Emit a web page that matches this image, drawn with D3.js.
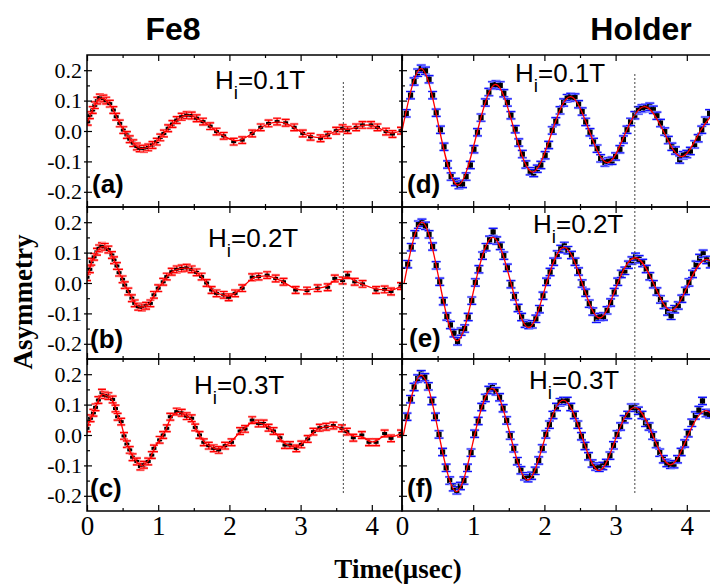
<!DOCTYPE html>
<html>
<head>
<meta charset="utf-8">
<script src="https://cdn.jsdelivr.net/npm/d3@7"></script>
<style>
  body { margin: 0; background: #fff; }
  .tick line { stroke: #000; stroke-width: 1.2; }
  .domain { display: none; }
</style>
</head>
<body>
<svg id="chart" width="710" height="585"></svg>
<script>
// ---- Fe8 sample data (time in usec, asymmetry) ----
const fe8TimeA = [0.01,0.04,0.08,0.11,0.145,0.18,0.23,0.27,0.32,0.37,0.41,0.46,0.51,0.56,0.60,0.65,0.70,0.74,0.80,0.86,0.92,0.98,1.03,1.08,1.14,1.20,1.26,1.33,1.40,1.47,1.54,1.63,1.73,1.82,1.92,2.06,2.18,2.32,2.44,2.55,2.67,2.79,2.91,3.03,3.14,3.28,3.38,3.50,3.59,3.66,3.78,3.87,3.99,4.08,4.20,4.29,4.41];
const fe8AsymA = [0.030,0.052,0.069,0.085,0.100,0.110,0.107,0.100,0.090,0.069,0.047,0.025,0.003,-0.013,-0.027,-0.040,-0.051,-0.057,-0.058,-0.054,-0.046,-0.035,-0.021,-0.008,0.009,0.023,0.036,0.047,0.052,0.051,0.042,0.031,0.016,-0.002,-0.016,-0.035,-0.030,-0.008,0.012,0.025,0.031,0.027,0.012,-0.008,-0.019,-0.024,-0.013,0.001,0.009,0.003,0.012,0.020,0.020,0.012,-0.002,-0.010,0.001];

const fe8TimeB = [0.0,0.04,0.06,0.10,0.14,0.17,0.21,0.25,0.30,0.35,0.38,0.42,0.45,0.50,0.53,0.58,0.63,0.67,0.72,0.77,0.83,0.89,0.94,1.00,1.07,1.12,1.19,1.26,1.33,1.40,1.47,1.54,1.61,1.68,1.75,1.82,1.92,1.99,2.08,2.18,2.32,2.41,2.53,2.65,2.76,2.93,3.09,3.24,3.38,3.48,3.59,3.66,3.76,3.87,4.06,4.18,4.27,4.41];
const fe8AsymB = [0.019,0.045,0.070,0.086,0.103,0.114,0.121,0.119,0.110,0.092,0.075,0.056,0.034,0.012,-0.007,-0.028,-0.050,-0.067,-0.078,-0.080,-0.075,-0.067,-0.039,-0.017,0.004,0.021,0.037,0.045,0.048,0.050,0.045,0.035,0.021,0.000,-0.023,-0.034,-0.039,-0.047,-0.034,-0.017,0.019,0.021,0.026,0.015,0.004,-0.023,-0.025,-0.017,-0.014,0.015,0.008,0.026,0.004,-0.003,-0.023,-0.021,-0.028,-0.010];

const fe8TimeC = [0.0,0.05,0.09,0.12,0.16,0.21,0.25,0.30,0.36,0.40,0.43,0.48,0.52,0.56,0.60,0.64,0.70,0.75,0.80,0.86,0.91,0.94,1.02,1.07,1.12,1.17,1.26,1.33,1.40,1.47,1.52,1.58,1.64,1.71,1.78,1.85,1.94,2.03,2.15,2.22,2.32,2.41,2.48,2.55,2.62,2.71,2.78,2.85,2.94,3.01,3.10,3.18,3.27,3.36,3.46,3.58,3.65,3.74,3.86,3.96,4.06,4.18,4.27,4.41];
const fe8AsymC = [0.022,0.055,0.073,0.091,0.115,0.139,0.131,0.128,0.117,0.087,0.060,0.044,-0.003,-0.030,-0.049,-0.073,-0.087,-0.104,-0.098,-0.087,-0.066,-0.044,-0.016,0.000,0.022,0.060,0.077,0.073,0.062,0.055,0.025,0.000,-0.024,-0.035,-0.044,-0.049,-0.035,-0.024,0.013,0.020,0.049,0.038,0.038,0.024,0.013,-0.009,-0.033,-0.033,-0.044,-0.031,-0.013,0.011,0.024,0.027,0.031,0.022,0.011,-0.009,0.000,-0.024,-0.024,0.005,-0.011,0.005];

// ---- Holder data ----
const holderTimeD = [0.06,0.12,0.17,0.22,0.27,0.33,0.38,0.43,0.48,0.54,0.59,0.64,0.69,0.75,0.80,0.85,0.90,0.96,1.01,1.06,1.11,1.17,1.22,1.27,1.32,1.38,1.43,1.48,1.53,1.59,1.64,1.69,1.74,1.80,1.85,1.90,1.95,2.01,2.06,2.11,2.16,2.22,2.27,2.32,2.37,2.43,2.48,2.53,2.58,2.64,2.69,2.74,2.79,2.85,2.90,2.95,3.00,3.06,3.11,3.16,3.21,3.27,3.32,3.37,3.42,3.48,3.53,3.58,3.63,3.69,3.74,3.79,3.84,3.90,3.95,4.00,4.05,4.11,4.16,4.21,4.26,4.32];
const holderAsymD = [0.058,0.118,0.163,0.192,0.205,0.198,0.170,0.118,0.060,
  0.004,-0.052,-0.110,-0.150,-0.168,-0.178,-0.174,-0.150,-0.112,-0.060,
  -0.004,0.044,0.094,0.128,0.150,0.153,0.150,0.124,0.094,0.052,
  0.006,-0.038,-0.076,-0.110,-0.132,-0.138,-0.124,-0.112,-0.080,-0.046,
  0.002,0.032,0.068,0.094,0.108,0.112,0.110,0.088,0.064,0.030,
  -0.004,-0.036,-0.058,-0.090,-0.104,-0.100,-0.098,-0.084,-0.060,-0.028,
  0.004,0.030,0.052,0.068,0.074,0.076,0.080,0.070,0.050,0.026,
  -0.002,-0.030,-0.052,-0.064,-0.094,-0.080,-0.076,-0.066,-0.044,-0.024,
  0.004,0.034,0.058];

const holderTimeE = [0.08,0.13,0.18,0.23,0.28,0.33,0.38,0.43,0.48,0.53,0.58,0.63,0.68,0.73,0.78,0.83,0.88,0.93,0.98,1.03,1.08,1.13,1.18,1.23,1.28,1.33,1.38,1.43,1.48,1.53,1.58,1.63,1.68,1.73,1.78,1.83,1.88,1.93,1.98,2.03,2.08,2.13,2.18,2.23,2.28,2.33,2.38,2.43,2.48,2.53,2.58,2.63,2.68,2.73,2.78,2.83,2.88,2.93,2.98,3.03,3.08,3.13,3.18,3.23,3.28,3.33,3.38,3.43,3.48,3.53,3.58,3.63,3.68,3.73,3.78,3.83,3.88,3.93,3.98,4.03,4.08,4.13,4.18,4.23,4.28,4.33];
const holderAsymE = [0.062,0.118,0.160,0.192,0.198,0.188,0.160,0.120,0.058,
  0.004,-0.060,-0.110,-0.138,-0.165,-0.192,-0.160,-0.150,-0.112,-0.058,
  0.002,0.045,0.090,0.118,0.142,0.168,0.140,0.122,0.090,0.050,
  -0.004,-0.044,-0.082,-0.112,-0.134,-0.138,-0.136,-0.118,-0.086,-0.042,
  0.004,0.036,0.070,0.094,0.112,0.122,0.108,0.092,0.070,0.038,
  -0.002,-0.032,-0.068,-0.094,-0.118,-0.112,-0.110,-0.090,-0.064,-0.030,
  0.004,0.030,0.040,0.060,0.074,0.086,0.078,0.066,0.046,0.022,
  -0.004,-0.028,-0.054,-0.072,-0.094,-0.108,-0.086,-0.074,-0.052,-0.026,
  0.002,0.030,0.060,0.082,0.096,0.076,0.062];

const holderTimeF = [0.07,0.12,0.17,0.22,0.27,0.32,0.37,0.42,0.47,0.52,0.57,0.62,0.67,0.72,0.77,0.82,0.87,0.92,0.97,1.02,1.07,1.12,1.17,1.22,1.27,1.32,1.37,1.42,1.47,1.52,1.57,1.62,1.67,1.72,1.77,1.82,1.87,1.92,1.97,2.02,2.07,2.12,2.17,2.22,2.27,2.32,2.37,2.42,2.47,2.52,2.57,2.62,2.67,2.72,2.77,2.82,2.87,2.92,2.97,3.02,3.07,3.12,3.17,3.22,3.27,3.32,3.37,3.42,3.47,3.52,3.57,3.62,3.67,3.72,3.77,3.82,3.87,3.92,3.97,4.02,4.07,4.12,4.17,4.22,4.27,4.32];
const holderAsymF = [0.060,0.118,0.158,0.186,0.200,0.190,0.160,0.112,0.060,
  0.002,-0.056,-0.108,-0.150,-0.172,-0.182,-0.168,-0.150,-0.108,-0.058,
  0.004,0.046,0.092,0.122,0.148,0.156,0.144,0.124,0.088,0.048,
  -0.002,-0.044,-0.086,-0.116,-0.136,-0.142,-0.134,-0.118,-0.084,-0.044,
  0.002,0.034,0.066,0.092,0.108,0.112,0.112,0.092,0.066,0.034,
  -0.004,-0.036,-0.070,-0.094,-0.104,-0.108,-0.102,-0.092,-0.068,-0.034,
  0.002,0.028,0.052,0.066,0.090,0.090,0.080,0.066,0.040,0.028,
  -0.002,-0.030,-0.058,-0.080,-0.092,-0.098,-0.096,-0.080,-0.056,-0.028,
  0.006,0.040,0.064,0.082,0.112,0.072,0.068];

// holder fit curves, read at extrema and zero crossings
const fitTimeD = [0,0.27,0.53,0.79,1.06,1.32,1.58,1.84,2.11,2.37,2.63,2.89,3.15,3.41,3.67,3.93,4.19,4.45];
const fitAsymD = [0,0.205,0,-0.178,0,0.153,0,-0.135,0,0.113,0,-0.104,0,0.080,0,-0.084,0,0.078];
const fitTimeE = [0.03,0.28,0.53,0.78,1.03,1.28,1.53,1.78,2.03,2.28,2.53,2.78,3.03,3.28,3.53,3.78,4.03,4.28,4.53];
const fitAsymE = [0,0.200,0,-0.190,0,0.150,0,-0.147,0,0.117,0,-0.115,0,0.083,0,-0.090,0,0.078,0];
const fitTimeF = [0.02,0.27,0.52,0.77,1.02,1.27,1.52,1.77,2.02,2.27,2.52,2.77,3.02,3.27,3.52,3.77,4.02,4.27,4.52];
const fitAsymF = [0,0.197,0,-0.186,0,0.153,0,-0.148,0,0.115,0,-0.117,0,0.091,0,-0.098,0,0.080,0];

const fieldLabels = ["0.1", "0.2", "0.3"];
const panelTags = ["(a)", "(b)", "(c)", "(d)", "(e)", "(f)"];
const xMajor = [0, 1, 2, 3, 4];
const xMinor = [0.5, 1.5, 2.5, 3.5];
const yMajor = [-0.2, -0.1, 0, 0.1, 0.2];
const yMinor = [-0.15, -0.05, 0.05, 0.15];
const markerTime = [3.6, 3.27];   // dotted guides, left / right column
const errFe8 = 0.011, errHolder = 0.012;

// ---- layout ----
const svg = d3.select("#chart");
const W = 315, H = 152;
const colX = [87, 402];
const rowY = [55, 207, 359];
const x = d3.scaleLinear().domain([0, 4.424]).range([0, W]);
const y = d3.scaleLinear().domain([-0.25, 0.25]).range([H, 0]);

// label spots inside each panel (field text, tag)
const fieldPos = [[128, 34], [121, 40], [107, 35], [113, 27], [131, 26], [127, 30]];
const tagPos = [[5, 138], [3, 141], [3, 138], [5, 138], [7, 140], [5, 138]];

svg.append("defs").append("clipPath").attr("id", "clip")
  .append("rect").attr("width", W).attr("height", H);

const panels = [
  {col: 0, row: 0, time: fe8TimeA, asym: fe8AsymA, kind: "fe8"},
  {col: 0, row: 1, time: fe8TimeB, asym: fe8AsymB, kind: "fe8"},
  {col: 0, row: 2, time: fe8TimeC, asym: fe8AsymC, kind: "fe8"},
  {col: 1, row: 0, time: holderTimeD, asym: holderAsymD, kind: "holder", fitT: fitTimeD, fitV: fitAsymD},
  {col: 1, row: 1, time: holderTimeE, asym: holderAsymE, kind: "holder", fitT: fitTimeE, fitV: fitAsymE},
  {col: 1, row: 2, time: holderTimeF, asym: holderAsymF, kind: "holder", fitT: fitTimeF, fitV: fitAsymF}
];

panels.forEach(function(p, i) {
  const g = svg.append("g").attr("transform", `translate(${colX[p.col]},${rowY[p.row]})`);
  const plot = g.append("g").attr("clip-path", "url(#clip)");
  const pts = p.time.map((t, k) => ({t: t, v: p.asym[k]}));
  const isFe8 = p.kind === "fe8";
  const err = isFe8 ? errFe8 : errHolder;
  const cap = isFe8 ? 4 : 4.5;

  const marks = plot.selectAll("g.pt").data(pts).join("g")
    .attr("class", "pt")
    .attr("transform", d => `translate(${x(d.t)},${y(d.v)})`);

  const barPath = d => {
    const h = y(0) - y(err);
    return `M0,${-h}V${h}M${-cap},${-h}H${cap}M${-cap},${h}H${cap}`;
  };
  // soft halo under the error bars
  marks.append("path").attr("d", barPath)
    .attr("stroke", isFe8 ? "#ffa0a0" : "#b4baff").attr("stroke-width", 2.6).attr("fill", "none");
  marks.append("path").attr("d", barPath)
    .attr("stroke", isFe8 ? "#ff0000" : "#1010ff").attr("stroke-width", 1.2).attr("fill", "none");

  // fit line
  let line;
  if (isFe8) {
    line = d3.line().x(d => x(d.t)).y(d => y(d.v)).curve(d3.curveBasis);
    plot.append("path").datum(pts).attr("d", line)
      .attr("fill", "none").attr("stroke", "#ff0000").attr("stroke-width", 1.3);
  } else {
    const fit = p.fitT.map((t, k) => ({t: t, v: p.fitV[k]}));
    line = d3.line().x(d => x(d.t)).y(d => y(d.v)).curve(d3.curveNatural);
    plot.append("path").datum(fit).attr("d", line)
      .attr("fill", "none").attr("stroke", "#ff0000").attr("stroke-width", 1.3);
  }

  // markers on top
  if (isFe8) {
    marks.append("rect").attr("x", -2.5).attr("y", -1.5).attr("width", 5).attr("height", 3).attr("fill", "#000");
  } else {
    marks.append("rect").attr("x", -2.6).attr("y", -2.6).attr("width", 5.2).attr("height", 5.2).attr("fill", "#000");
  }

  // dotted guide
  const gy0 = p.col === 0 ? 82 : 74;
  const gy1 = 495;
  const y0 = Math.max(gy0 - rowY[p.row], 0), y1 = Math.min(gy1 - rowY[p.row], H);
  g.append("line")
    .attr("x1", x(markerTime[p.col])).attr("x2", x(markerTime[p.col]))
    .attr("y1", y0).attr("y2", y1)
    .attr("stroke", "#444").attr("stroke-width", 1).attr("stroke-dasharray", "2,2");

  // axes: ticks inward on top and bottom
  g.append("g").call(d3.axisTop(x).tickValues(xMajor).tickSize(-6).tickFormat(""));
  g.append("g").call(d3.axisTop(x).tickValues(xMinor).tickSize(-3).tickFormat(""));
  g.append("g").attr("transform", `translate(0,${H})`)
    .call(d3.axisBottom(x).tickValues(xMinor).tickSize(-3).tickFormat(""));
  const bottom = g.append("g").attr("transform", `translate(0,${H})`)
    .call(d3.axisBottom(x).tickValues(xMajor).tickSize(-6).tickPadding(5)
      .tickFormat(p.row === 2 ? d3.format("d") : ""));
  bottom.selectAll("text")
    .attr("font-family", "'Liberation Serif', 'Times New Roman', serif")
    .attr("font-size", 27).attr("fill", "#000");

  g.append("g").call(d3.axisLeft(y).tickValues(yMajor).tickSize(-5).tickFormat(""));
  g.append("g").call(d3.axisLeft(y).tickValues(yMinor).tickSize(-3).tickFormat(""));
  const left = g.append("g").call(d3.axisLeft(y).tickValues(yMajor).tickSize(3).tickPadding(2)
    .tickFormat(p.col === 0 ? (d => d.toFixed(1)) : ""));
  left.selectAll("text")
    .attr("font-family", "'Liberation Serif', 'Times New Roman', serif")
    .attr("font-size", 22).attr("fill", "#000");

  // frame
  g.append("rect").attr("width", W).attr("height", H)
    .attr("fill", "none").attr("stroke", "#000").attr("stroke-width", 1.5);

  // field label H_i=...
  const fp = fieldPos[i];
  const ft = g.append("text").attr("x", fp[0]).attr("y", fp[1])
    .attr("font-family", "'Liberation Sans', Arial, sans-serif").attr("font-size", 26).attr("fill", "#000");
  ft.append("tspan").text("H");
  ft.append("tspan").attr("font-size", 19).attr("dy", 10).text("i");
  ft.append("tspan").attr("dy", -10).text("=" + fieldLabels[p.row] + "T");

  const tp = tagPos[i];
  g.append("text").attr("x", tp[0]).attr("y", tp[1])
    .attr("font-family", "'Liberation Sans', Arial, sans-serif").attr("font-weight", "bold")
    .attr("font-size", 26).attr("fill", "#000").text(panelTags[i]);
});

// titles
svg.append("text").attr("x", 173).attr("y", 40).attr("text-anchor", "middle")
  .attr("font-family", "'Liberation Sans', Arial, sans-serif").attr("font-weight", "bold")
  .attr("font-size", 32).text("Fe8");
svg.append("text").attr("x", 641).attr("y", 40).attr("text-anchor", "middle")
  .attr("font-family", "'Liberation Sans', Arial, sans-serif").attr("font-weight", "bold")
  .attr("font-size", 32).text("Holder");

svg.append("text").attr("x", 398).attr("y", 578).attr("text-anchor", "middle")
  .attr("font-family", "'Liberation Serif', 'Times New Roman', serif").attr("font-weight", "bold")
  .attr("font-size", 27).text("Time(μsec)");
svg.append("text").attr("transform", "translate(32,302) rotate(-90)").attr("text-anchor", "middle")
  .attr("font-family", "'Liberation Serif', 'Times New Roman', serif").attr("font-weight", "bold")
  .attr("font-size", 27).text("Asymmetry");
</script>
</body>
</html>
